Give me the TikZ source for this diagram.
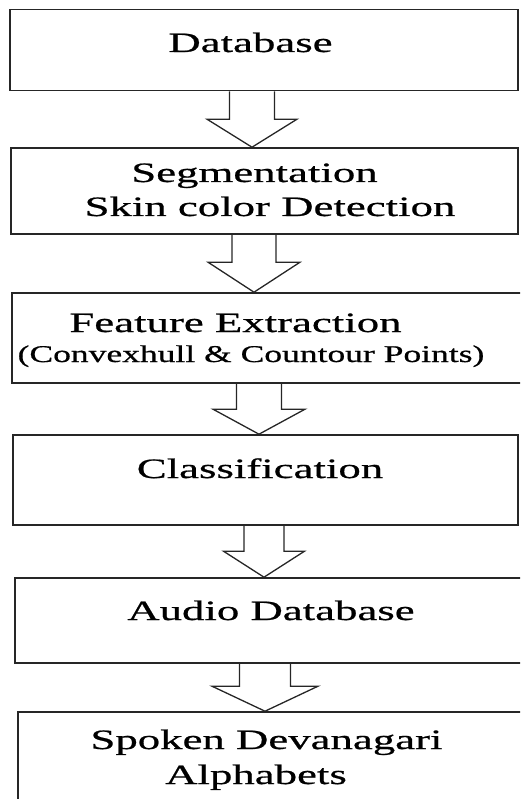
\documentclass[tikz,border=0pt]{standalone}
\usepackage{fontspec}
\setmainfont{Liberation Serif}[FakeStretch=1.6,FakeBold=0.7]
\newfontfamily\narrowserif{Liberation Serif}[FakeStretch=1.48,FakeBold=0.7]
\usetikzlibrary{calc}

% hollow block arrow from the bottom of #1 to the top of #2
\newcommand{\hollowarrow}[6]{%
  \coordinate (#2t) at ($(#2.north)+(#3,0)$);
  \coordinate (#2l) at ($(#2t)+(-#4,-#6)$);
  \coordinate (#2r) at ($(#2t)+(#4,-#6)$);
  \draw[arrowline] (#2l |- #1.south) -- (#2l) -- ($(#2t)+(-#5,-#6)$) -- (#2t)
    -- ($(#2t)+(#5,-#6)$) -- (#2r) -- (#2r |- #1.south);
}

\begin{document}
\begin{tikzpicture}[x=1pt,y=-1pt,stage/.style={shape=rectangle,draw=black!85,line width=1.6pt,inner sep=0pt},label/.style={anchor=base,inner sep=0pt,font=\fontsize{28}{30}\selectfont},labelS/.style={label,font=\narrowserif\fontsize{24}{26}\selectfont},arrowline/.style={draw=black!85,line width=1.3pt,line join=miter}]
\clip (0,0) rectangle (520,799);

\node[stage,minimum width=508pt,minimum height=81pt] (db) at (264,50) {};
\node[label] (dbl) at (250.5,52) {Database};

\node[stage,minimum width=507pt,minimum height=86pt] (seg) at (264.5,191) {};
\node[label] (segl) at (254.5,182) {Segmentation};
\node[label] (segm) at (270,216) {Skin color Detection};

\node[stage,minimum width=514pt,minimum height=90pt] (feat) at (269,338) {};
\node[label] (featl) at (235.5,332) {Feature Extraction};
\node[labelS] (featm) at (251,362) {(Convexhull \& Countour Points)};

\node[stage,minimum width=505pt,minimum height=90pt] (cls) at (265.5,480) {};
\node[label] (clsl) at (260,478) {Classification};

\node[stage,minimum width=511pt,minimum height=85pt] (aud) at (270.5,620.5) {};
\node[label] (audl) at (271,620) {Audio Database};

\node[stage,minimum width=508pt,minimum height=118pt] (spk) at (272,771) {};
\node[label] (spkl) at (266.5,749) {Spoken Devanagari};
\node[label] (spkm) at (256,784) {Alphabets};

%ARROWS
\hollowarrow{db}{seg}{-12.5}{22.5}{45}{28}
\hollowarrow{seg}{feat}{-15}{22}{46}{30}
\hollowarrow{feat}{cls}{-6.5}{22.5}{46}{25}
\hollowarrow{cls}{aud}{-6.5}{20}{40.5}{26}
\hollowarrow{aud}{spk}{-7}{25.5}{53}{25}
\end{tikzpicture}
\end{document}
